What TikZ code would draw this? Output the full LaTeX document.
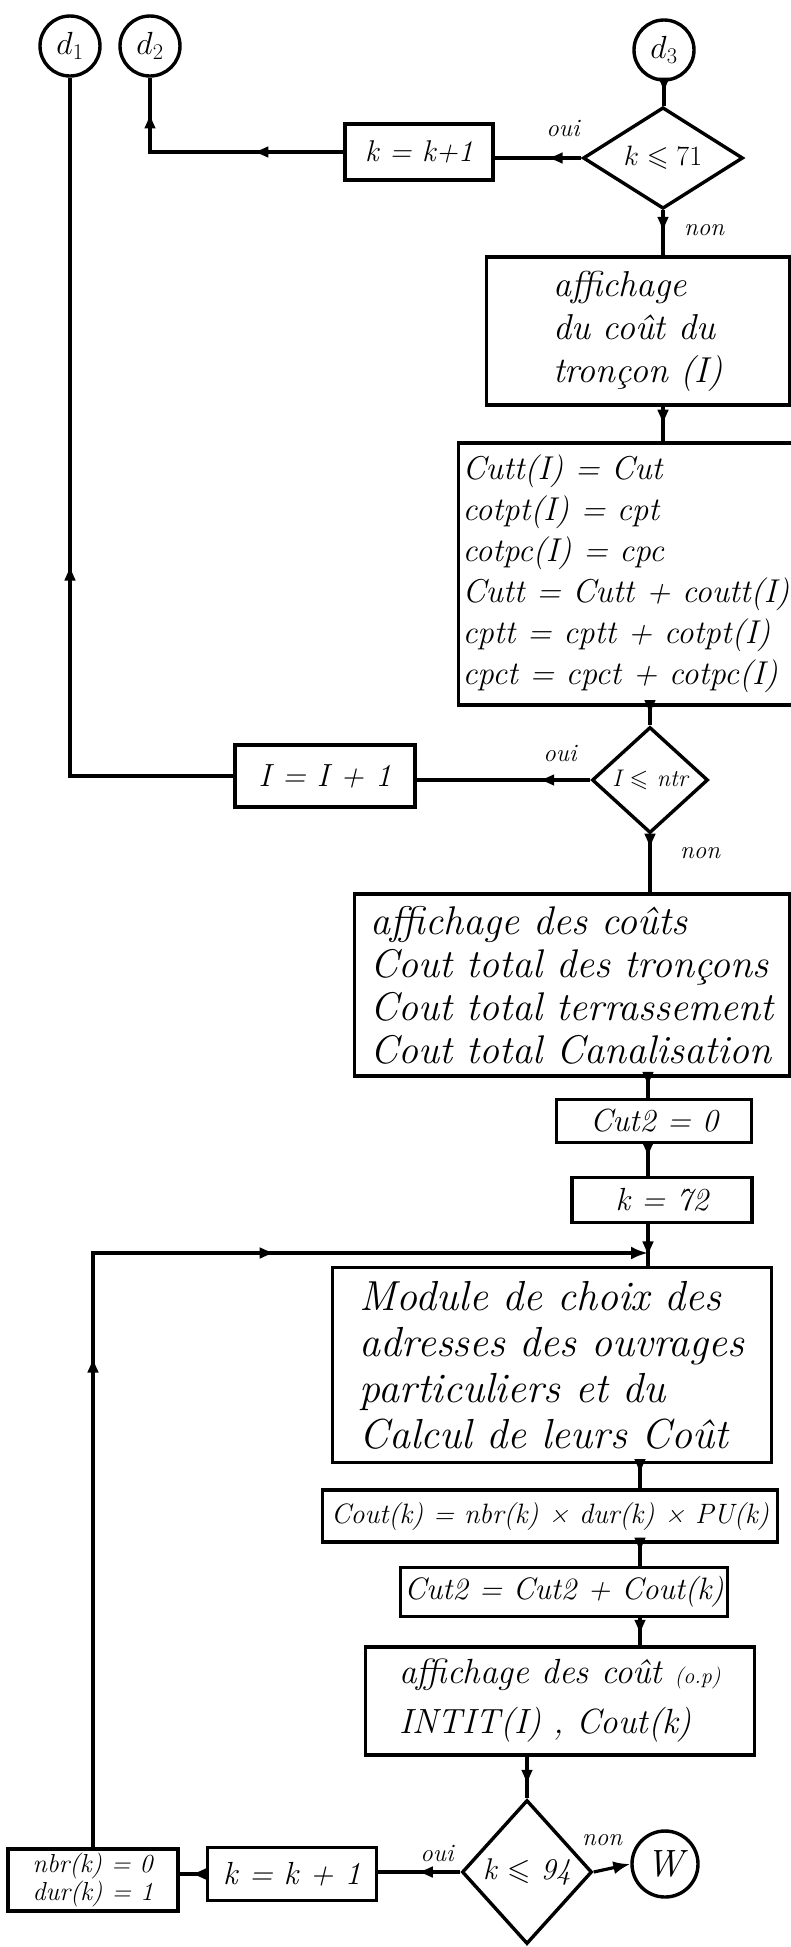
\RequirePackage{fix-cm}
\documentclass[tikz,border=0pt]{standalone}
\usepackage{amssymb}
\usetikzlibrary{shapes.geometric,arrows.meta,decorations.markings}
\begin{document}
\begin{tikzpicture}[x=1pt,y=-1pt,
  ln/.style={line width=3.2pt},
  box/.style={draw,line width=3.4pt,rectangle,inner sep=4pt,align=left},
  dia/.style={draw,line width=3.4pt,diamond,inner sep=0pt},
  circ/.style={draw,line width=3.4pt,circle,inner sep=0pt,minimum size=60pt,font=\itshape\fontsize{32}{32}\selectfont},
  lbl/.style={font=\itshape\fontsize{25}{25}\selectfont,inner sep=0pt},
  fsz/.style n args={2}{font=\itshape\fontsize{#1}{#2}\selectfont},
  arrowat/.style={postaction={decorate,decoration={markings,mark=at position #1 with {\arrow{Latex[length=16pt,width=12pt]}}}}},
  endarrow/.style={-{Latex[length=17pt,width=13pt]}}
]
\fill[white] (0,0) rectangle (791,1947);
\useasboundingbox (0,0) rectangle (791,1947);

% connector circles
\node[circ] (d1) at (70,46) {$d_1$};
\node[circ] (d2) at (150,46) {$d_2$};
\node[circ] (d3) at (664,50) {$d_3$};

% nodes
\node[dia,minimum width=160pt,minimum height=88pt,fsz={28}{28}] (dia1) at (663,158) {$k\leqslant 71$};
\node[box,minimum width=148pt,minimum height=56pt,fsz={30}{30}] (k1) at (419,152) {k = k+1};
\node[box,minimum width=303pt,minimum height=148pt,fsz={36}{43}] (aff1) at (638,331) {affichage\\du coût du\\tronçon (I)};
\node[box,minimum width=328pt,minimum height=262pt,fsz={33}{41}] (cutt) at (626,574) {Cutt(I) = Cut\\cotpt(I) = cpt\\cotpc(I) = cpc\\Cutt = Cutt + coutt(I)\\cptt = cptt + cotpt(I)\\cpct = cpct + cotpc(I)};
\node[dia,minimum width=116pt,minimum height=106pt,fsz={24}{24}] (dia2) at (650,780) {I $\leqslant$ ntr};
\node[box,minimum width=180pt,minimum height=62pt,fsz={32}{32}] (ibox) at (325,776) {I = I + 1};
\node[box,minimum width=435pt,minimum height=182pt,fsz={40}{43}] (aff2) at (572,985) {affichage des coûts\\Cout total des tronçons\\Cout total terrassement\\Cout total Canalisation};
\node[box,minimum width=195pt,minimum height=43pt,fsz={32}{32}] (cz) at (654,1121) {Cut2 = 0};
\node[box,minimum width=180pt,minimum height=45pt,fsz={32}{32}] (k72) at (662,1200) {k = 72};
\node[box,minimum width=439pt,minimum height=195pt,fsz={42}{46}] (mod) at (552,1365) {Module de choix des\\adresses des ouvrages\\particuliers et du\\Calcul de leurs Coût};
\node[box,minimum width=455pt,minimum height=52pt,fsz={28}{28}] (ck) at (550,1516) {Cout(k) = nbr(k) × dur(k) × PU(k)};
\node[box,minimum width=321pt,minimum height=49pt,fsz={31}{31}] (cp) at (564,1592) {Cut2 = Cut2 + Cout(k)};
\node[box,minimum width=389pt,minimum height=108pt,fsz={35}{50}] (aff3) at (560,1701) {affichage des coût {\fontsize{22}{22}\selectfont (o.p)}\\INTIT(I) , Cout(k)};
\node[dia,minimum width=130pt,minimum height=144pt,fsz={30}{30}] (dia3) at (527,1872) {k $\leqslant$ 94};
\node[circ,minimum size=66pt,font=\itshape\fontsize{38}{38}\selectfont] (W) at (665,1864) {W};
\node[box,minimum width=169pt,minimum height=53pt,fsz={32}{32}] (k2) at (292,1874) {k = k + 1};
\node[box,minimum width=170pt,minimum height=60pt,fsz={26}{28}] (nbr) at (93,1880) {nbr(k) = 0\\dur(k) = 1};

% labels
\node[lbl] (oui1) at (563,128) {oui};
\node[lbl] (non1) at (704,230) {non};
\node[lbl] (oui2) at (560,753) {oui};
\node[lbl] (non2) at (700,853) {non};
\node[lbl] (oui3) at (437,1853) {oui};
\node[lbl] (non3) at (602,1840) {non};

% flow x coordinates
\coordinate (fxA) at (648,1000);
\coordinate (fxB) at (640,1500);
\coordinate (junc) at (648,1253);

% connectors
\draw[ln,arrowat=0.5] (d3.south) -- (d3.south |- dia1.north);
\draw[ln,arrowat=0.4] (dia1.west) -- (k1.east |- dia1.west);
\draw[ln,arrowat=0.34,arrowat=0.87] (k1.west) -| (d2.south);
\draw[ln,arrowat=0.5] (dia1.south) -- (dia1.south |- aff1.north);
\draw[ln,arrowat=0.55] (aff1.south -| dia1.south) -- (cutt.north -| dia1.south);
\draw[ln,arrowat=0.5] (cutt.south -| dia2.north) -- (dia2.north);
\draw[ln,arrowat=0.3] (dia2.west) -- (ibox.east |- dia2.west);
\draw[ln,arrowat=0.435] (ibox.west) -| (d1.south);
\draw[ln,arrowat=0.26] (dia2.south) -- (dia2.south |- aff2.north);
\draw[ln,arrowat=0.5] (aff2.south -| fxA) -- (cz.north -| fxA);
\draw[ln,arrowat=0.45] (cz.south -| fxA) -- (k72.north -| fxA);
\draw[ln,arrowat=0.8] (k72.south -| fxA) -- (mod.north -| fxA);
\draw[ln,endarrow,arrowat=0.427,arrowat=0.676] (nbr.north) |- (junc);
\draw[ln,arrowat=0.45] (mod.south -| fxB) -- (ck.north -| fxB);
\draw[ln,arrowat=0.45] (ck.south -| fxB) -- (cp.north -| fxB);
\draw[ln,arrowat=0.65] (cp.south -| fxB) -- (aff3.north -| fxB);
\draw[ln,arrowat=0.7] (aff3.south -| dia3.north) -- (dia3.north);
\draw[ln,arrowat=0.53] (dia3.west) -- (k2.east |- dia3.west);
\draw[ln,arrowat=0.6] (k2.west) -- (nbr.east |- k2.west);
\draw[ln,endarrow] (dia3.east) -- (W.west);
\end{tikzpicture}
\end{document}
